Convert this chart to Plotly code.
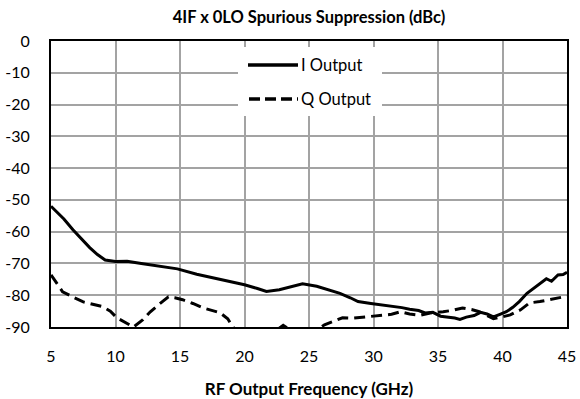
import plotly.graph_objects as go

# 4IF x 0LO spurious suppression vs RF output frequency
freq_i = [5, 6, 6.7, 7.5, 8, 8.6, 9.2, 10, 10.9, 12,
          12.7, 14, 14.8, 16.3, 17.5, 18.6, 20, 21, 21.7, 22.7,
          23.5, 24.5, 25.6, 26.6, 27.4, 28.2, 28.8, 29.8, 30.7, 31.5,
          32.2, 32.8, 33.5, 34.0, 34.6, 35.2, 35.8, 36.3, 36.7, 37.2,
          37.8, 38.3, 38.8, 39.3, 39.8, 40.3, 40.8, 41.3, 41.9, 42.5,
          43.0, 43.4, 43.8, 44.3, 44.7, 45]
i_output = [-52, -56, -59.4, -62.8, -65, -67.2, -68.9, -69.4, -69.3, -70,
            -70.4, -71.2, -71.7, -73.4, -74.4, -75.3, -76.7, -77.9, -78.8, -78.3,
            -77.4, -76.4, -77.2, -78.3, -79.4, -80.8, -82, -82.6, -83.1, -83.4,
            -83.9, -84.4, -84.8, -85.6, -85.4, -86.6, -86.8, -87.2, -87.6, -86.9,
            -86.4, -85.4, -85.9, -86.8, -86.0, -85.2, -83.8, -82.0, -79.4, -77.6,
            -76.0, -74.8, -75.6, -73.6, -73.5, -72.8]

freq_q = [5, 5.9, 6.8, 7.5, 9, 9.6, 10.1, 10.8, 11.4, 12.1,
          12.7, 13.4, 14.1, 14.6, 15.2, 16, 16.8, 18.1, 18.7, 19.1,
          19.6, 20.5, 21.5, 22.3, 23, 23.6, 24.5, 25.4, 26.2, 26.9,
          27.6, 28.5, 29.5, 30.7, 31.4, 32.1, 32.8, 33.6, 34.4, 35.4,
          36.2, 36.9, 37.6, 38.2, 38.8, 39.3, 40, 40.6, 41.4, 42.1,
          42.9, 43.7, 44.3, 44.8, 45]
q_output = [-73.6, -78.9, -80.8, -82.1, -83.6, -85.0, -87.1, -88.8, -90.0, -87.8,
            -85.2, -82.8, -80.5, -80.8, -81.4, -82.6, -84.0, -85.5, -87.4, -90.0,
            -92, -94, -93, -91.5, -89.5, -91, -93, -91.5, -89.3, -88.2,
            -87.1, -87.2, -86.8, -86.4, -86.0, -85.2, -85.9, -86.3, -85.6, -85.2,
            -84.7, -84.0, -84.5, -85.2, -86.4, -87.4, -86.8, -86.2, -84.6, -82.4,
            -82.0, -81.4, -81.0, -80.5, -80.3]

x_ticks = [5, 10, 15, 20, 25, 30, 35, 40, 45]
y_ticks = [0, -10, -20, -30, -40, -50, -60, -70, -80, -90]
series_names = ["I Output", "Q Output"]

FONT = "Lato"
DASH = "11px,6px"

fig = go.Figure()
fig.add_trace(go.Scatter(x=freq_i, y=i_output, mode="lines", name=series_names[0],
                         line=dict(color="black", width=3), showlegend=False))
fig.add_trace(go.Scatter(x=freq_q, y=q_output, mode="lines", name=series_names[1],
                         line=dict(color="black", width=3, dash=DASH), showlegend=False))

# plot-area edges in pixels, used for the legend placement
L, R, T, B = 51, 567, 41, 327
def px(x):
    return (x - L) / (R - L)
def py(y):
    return (B - y) / (B - T)

shapes = [
    dict(type="rect", xref="paper", yref="paper", x0=px(238), x1=px(382), y0=py(116), y1=py(47),
         fillcolor="white", line=dict(width=0), layer="above"),
    dict(type="line", xref="paper", yref="paper", x0=px(248), x1=px(298), y0=py(65), y1=py(65),
         line=dict(color="black", width=3.5), layer="above"),
    dict(type="line", xref="paper", yref="paper", x0=px(249), x1=px(298), y0=py(99), y1=py(99),
         line=dict(color="black", width=3.5, dash="11px,5px"), layer="above"),
]
annotations = [
    dict(text=series_names[0], xref="paper", yref="paper", x=px(299), y=py(65),
         xanchor="left", yanchor="middle", showarrow=False, font=dict(family=FONT, size=16.5, color="black")),
    dict(text=series_names[1], xref="paper", yref="paper", x=px(299), y=py(99),
         xanchor="left", yanchor="middle", showarrow=False, font=dict(family=FONT, size=16.5, color="black")),
]

fig.update_layout(
    width=580, height=399,
    margin=dict(l=L, r=580 - R, t=T, b=399 - B, pad=0, autoexpand=False),
    paper_bgcolor="white", plot_bgcolor="white",
    font=dict(family=FONT, size=16, color="black"),
    title=dict(text="<b>4IF x 0LO Spurious Suppression (dBc)</b>", x=(L + R) / 2 / 580, xanchor="center",
               y=1 - 17 / 399, yanchor="middle", font=dict(family=FONT, size=16.5, color="black")),
    shapes=shapes, annotations=annotations,
)
fig.update_xaxes(range=[5, 45], tickvals=x_ticks, ticktext=[str(v) for v in x_ticks],
                 showgrid=True, gridcolor="#a3a3a3", gridwidth=1.5, zeroline=False,
                 showline=True, linecolor="black", linewidth=2, mirror=True, ticks="",
                 automargin=False, ticklabelstandoff=14,
                 title=dict(text="<b>RF Output Frequency (GHz)</b>", font=dict(family=FONT, size=17), standoff=20))
fig.update_yaxes(range=[-90, 0], tickvals=y_ticks, ticktext=[str(v) for v in y_ticks],
                 showgrid=True, gridcolor="#a3a3a3", gridwidth=1.5, zeroline=False,
                 showline=True, linecolor="black", linewidth=2, mirror=True, ticks="",
                 automargin=False, ticklabelstandoff=16)

fig.write_html("out.html")
